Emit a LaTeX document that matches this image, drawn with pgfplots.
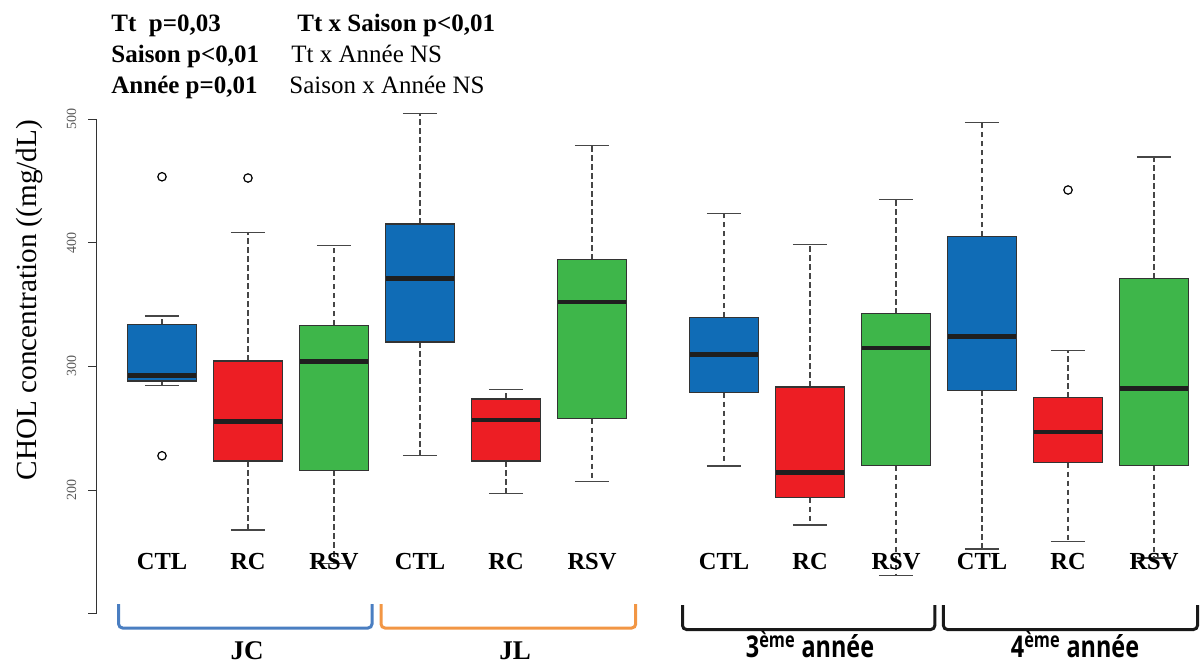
\documentclass[border=0pt]{standalone}
\usepackage{pgfplots}
\pgfplotsset{compat=1.18}
\usepgfplotslibrary{statistics}
\usepackage{fontspec}
\setmainfont{Liberation Serif}
\newfontfamily\sansb{Open Sans}
\definecolor{boxblue}{RGB}{16,108,182}
\definecolor{boxred}{RGB}{237,30,36}
\definecolor{boxgreen}{RGB}{62,182,74}
\definecolor{brblue}{RGB}{74,126,193}
\definecolor{brorange}{RGB}{242,150,68}
\definecolor{whisk}{RGB}{70,70,70}

\pgfplotsset{
  mybox/.style={
    draw=black!80,
    mark=o, mark size=2.1pt, mark options={solid, draw=black, line width=0.6pt},
    boxplot/draw direction=y,
    boxplot/box extend=0.8,
    boxplot/whisker extend=0.4,
    boxplot/every box/.style={draw=black!80, line width=0.6pt, fill=#1},
    boxplot/every median/.style={draw=black!88, line width=2.2pt},
    boxplot/draw/lower whisker/.code={%
      \draw[whisk, line width=0.55pt, dash pattern=on 2.8pt off 1.7pt]
        (boxplot cs:\pgfplotsboxplotvalue{lower quartile}) --
        (boxplot cs:\pgfplotsboxplotvalue{lower whisker});
      \draw[whisk, line width=0.65pt]
        (boxplot whisker cs:\pgfplotsboxplotvalue{lower whisker},0) --
        (boxplot whisker cs:\pgfplotsboxplotvalue{lower whisker},1);
    },
    boxplot/draw/upper whisker/.code={%
      \draw[whisk, line width=0.55pt, dash pattern=on 2.8pt off 1.7pt]
        (boxplot cs:\pgfplotsboxplotvalue{upper quartile}) --
        (boxplot cs:\pgfplotsboxplotvalue{upper whisker});
      \draw[whisk, line width=0.65pt]
        (boxplot whisker cs:\pgfplotsboxplotvalue{upper whisker},0) --
        (boxplot whisker cs:\pgfplotsboxplotvalue{upper whisker},1);
    },
  }
}

\begin{document}
\begin{tikzpicture}
\begin{axis}[
  at={(0,0)}, anchor=south west,
  scale only axis, width=552.5pt, height=247.34pt,
  xmin=0.2442, xmax=13.093, ymin=100, ymax=500,
  clip=false,
  axis x line=none,
  axis y line*=left,
  y axis line style={black!80, line width=0.5pt, -},
  ytick={100,200,300,400,500},
  yticklabels={,200,300,400,500},
  tick align=outside, major tick length=4.3pt,
  ytick style={black!80, line width=0.5pt},
  yticklabel style={rotate=90, anchor=south, yshift=2.5pt, font=\fontsize{7}{7}\selectfont, text=black!65},
  /pgf/number format/assume math mode=true,
]
\draw[black!80, line width=0.5pt] (axis cs:0.2442,100) -- (axis cs:0.2442,500);
% JC
\addplot[mybox=boxblue, boxplot prepared={draw position=1, lower whisker=284.4, lower quartile=288.1, median=292.7, upper quartile=334.0, upper whisker=340.7}]
  table[row sep=\\,y index=0] {data\\ 453.3\\ 227.7\\};
\addplot[mybox=boxred, boxplot prepared={draw position=2, lower whisker=167.7, lower quartile=223.4, median=255.5, upper quartile=304.3, upper whisker=408.1}]
  table[row sep=\\,y index=0] {data\\ 452.3\\};
\addplot[mybox=boxgreen, boxplot prepared={draw position=3, lower whisker=140.7, lower quartile=215.9, median=303.8, upper quartile=333.2, upper whisker=397.8}]
  coordinates {};
% JL
\addplot[mybox=boxblue, boxplot prepared={draw position=4, lower whisker=227.7, lower quartile=319.7, median=371.2, upper quartile=415.1, upper whisker=504.6}]
  coordinates {};
\addplot[mybox=boxred, boxplot prepared={draw position=5, lower whisker=197.3, lower quartile=223.4, median=256.4, upper quartile=273.6, upper whisker=281.4}]
  coordinates {};
\addplot[mybox=boxgreen, boxplot prepared={draw position=6, lower whisker=207.0, lower quartile=257.7, median=352.0, upper quartile=386.2, upper whisker=478.4}]
  coordinates {};
% 3eme annee
\addplot[mybox=boxblue, boxplot prepared={draw position=7.535, lower whisker=219.4, lower quartile=278.7, median=309.7, upper quartile=339.6, upper whisker=423.4}]
  coordinates {};
\addplot[mybox=boxred, boxplot prepared={draw position=8.535, lower whisker=171.7, lower quartile=193.8, median=214.3, upper quartile=283.3, upper whisker=398.6}]
  coordinates {};
\addplot[mybox=boxgreen, boxplot prepared={draw position=9.535, lower whisker=131.0, lower quartile=219.7, median=314.8, upper quartile=342.6, upper whisker=434.8}]
  coordinates {};
% 4eme annee
\addplot[mybox=boxblue, boxplot prepared={draw position=10.535, lower whisker=152.3, lower quartile=280.6, median=324.3, upper quartile=405.1, upper whisker=497.0}]
  coordinates {};
\addplot[mybox=boxred, boxplot prepared={draw position=11.535, lower whisker=158.2, lower quartile=222.1, median=246.9, upper quartile=274.6, upper whisker=312.6}]
  table[row sep=\\,y index=0] {data\\ 442.6\\};
\addplot[mybox=boxgreen, boxplot prepared={draw position=12.535, lower whisker=145.0, lower quartile=219.7, median=282.2, upper quartile=370.9, upper whisker=469.3}]
  coordinates {};
\end{axis}

\begin{scope}[shift={(-48.5pt,306.85pt)}, x=0.5pt, y=-0.5pt]
  % statistics text
  \begin{scope}[every node/.style={anchor=base west, inner sep=0pt, font=\fontsize{12.5}{15}\selectfont}]
    \node at (111,32) {\bfseries Tt\ \ p=0,03};
    \node at (297,32) {\bfseries Tt x Saison p<0,01};
    \node at (111,63) {\bfseries Saison p<0,01};
    \node at (291,63) {Tt x Année NS};
    \node at (111,94) {\bfseries Année p=0,01};
    \node at (289,94) {Saison x Année NS};
  \end{scope}
  % y label
  \node[rotate=90, font=\fontsize{14.6}{16}\selectfont] at (30,300) {CHOL concentration ((mg/dL)};
  % category labels
  \begin{scope}[every node/.style={anchor=base, inner sep=0pt, font=\fontsize{12.25}{14}\selectfont\bfseries}]
    \foreach \x/\t in {162/CTL,248/RC,334/RSV,420/CTL,506/RC,592/RSV,724/CTL,810/RC,896/RSV,982/CTL,1068/RC,1154/RSV}
      \node at (\x,569) {\t};
  \end{scope}
  % brackets
  \draw[brblue, line width=1.5pt, rounded corners=2pt] (118.6,604) -- (118.6,628) -- (372,628) -- (372,604);
  \draw[brorange, line width=1.5pt, rounded corners=2pt] (381,604) -- (381,628) -- (635.7,628) -- (635.7,604);
  \draw[black!90, line width=1.5pt, rounded corners=2pt] (682.5,605) -- (682.5,629.5) -- (934.8,629.5) -- (934.8,605);
  \draw[black!90, line width=1.5pt, rounded corners=2pt] (943.4,605) -- (943.4,629.5) -- (1197.5,629.5) -- (1197.5,605);
  % group labels
  \node[anchor=base, inner sep=0pt, font=\fontsize{13.5}{15}\selectfont\bfseries] at (247,659) {JC};
  \node[anchor=base, inner sep=0pt, font=\fontsize{13.5}{15}\selectfont\bfseries] at (515,659) {JL};
  \node[anchor=base, inner sep=0pt, font=\sansb\fontsize{15}{17}\selectfont\bfseries] at (810,657.5) {\scalebox{0.78}[1]{3\textsuperscript{ème} année}};
  \node[anchor=base, inner sep=0pt, font=\sansb\fontsize{15}{17}\selectfont\bfseries] at (1075,657.5) {\scalebox{0.78}[1]{4\textsuperscript{ème} année}};
  \pgfresetboundingbox
  \path[use as bounding box] (0,0) rectangle (1202,663);
\end{scope}
\end{tikzpicture}
\end{document}
